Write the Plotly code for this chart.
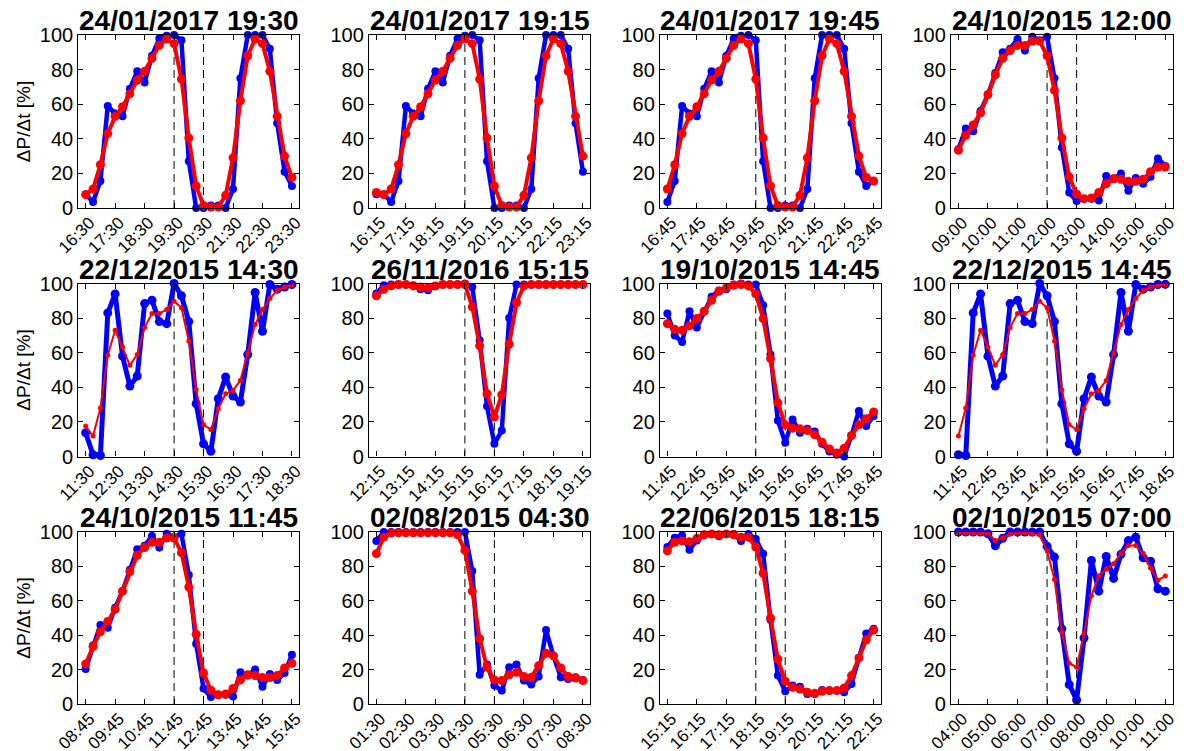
import plotly.graph_objects as go

# ---------------- data ----------------
titles = ["24/01/2017 19:30", "24/01/2017 19:15", "24/01/2017 19:45", "24/10/2015 12:00",
          "22/12/2015 14:30", "26/11/2016 15:15", "19/10/2015 14:45", "22/12/2015 14:45",
          "24/10/2015 11:45", "02/08/2015 04:30", "22/06/2015 18:15", "02/10/2015 07:00"]

ticks_p1 = ["16:30", "17:30", "18:30", "19:30", "20:30", "21:30", "22:30", "23:30"]
ticks_p2 = ["16:15", "17:15", "18:15", "19:15", "20:15", "21:15", "22:15", "23:15"]
ticks_p3 = ["16:45", "17:45", "18:45", "19:45", "20:45", "21:45", "22:45", "23:45"]
ticks_p4 = ["09:00", "10:00", "11:00", "12:00", "13:00", "14:00", "15:00", "16:00"]
ticks_p5 = ["11:30", "12:30", "13:30", "14:30", "15:30", "16:30", "17:30", "18:30"]
ticks_p6 = ["12:15", "13:15", "14:15", "15:15", "16:15", "17:15", "18:15", "19:15"]
ticks_p7 = ["11:45", "12:45", "13:45", "14:45", "15:45", "16:45", "17:45", "18:45"]
ticks_p8 = ["11:45", "12:45", "13:45", "14:45", "15:45", "16:45", "17:45", "18:45"]
ticks_p9 = ["08:45", "09:45", "10:45", "11:45", "12:45", "13:45", "14:45", "15:45"]
ticks_p10 = ["01:30", "02:30", "03:30", "04:30", "05:30", "06:30", "07:30", "08:30"]
ticks_p11 = ["15:15", "16:15", "17:15", "18:15", "19:15", "20:15", "21:15", "22:15"]
ticks_p12 = ["04:00", "05:00", "06:00", "07:00", "08:00", "09:00", "10:00", "11:00"]

blue_p1 = [8, 3.5, 15.6, 59, 54.6, 53, 69, 79, 72.6, 88, 98, 99.6, 100, 97, 27, 0, 0, 1.5, 1.5, 0,
           11, 75, 100, 100, 100, 92, 49, 21, 12.7]
red_p1 = [7.7, 11, 25, 43, 53, 58.5, 66, 74, 79, 86.5, 94, 97.7, 95, 74.5, 40.5, 12.7, 1.5, 0.6, 0.6, 7.3,
          29, 62, 88, 97.7, 95, 79, 53, 30, 17.6]

blue_p2 = [8, 8, 3.5, 15.6, 59, 54.6, 53, 69, 79, 72.6, 88, 98, 99.6, 100, 97, 27, 0, 0, 1.5, 1.5,
           0, 11, 75, 100, 100, 100, 92, 49, 21]
red_p2 = [9, 7.7, 11, 25, 43, 53, 58.5, 66, 74, 79, 86.5, 94, 97.7, 95, 74.5, 40.5, 12.7, 1.5, 0.6, 0.6,
          7.3, 29, 62, 88, 97.7, 95, 79, 53, 30]

blue_p3 = [3.5, 15.6, 59, 54.6, 53, 69, 79, 72.6, 88, 98, 99.6, 100, 97, 27, 0, 0, 1.5, 1.5, 0, 11,
           75, 100, 100, 100, 92, 49, 21, 12.7, 15.5]
red_p3 = [11, 25, 43, 53, 58.5, 66, 74, 79, 86.5, 94, 97.7, 95, 74.5, 40.5, 12.7, 1.5, 0.6, 0.6, 7.3, 29,
          62, 88, 97.7, 95, 79, 53, 30, 17.6, 15.6]

blue_p4 = [34, 46, 44.4, 56, 65.6, 78, 90, 92, 97.7, 91, 99, 97, 99, 75, 35, 9, 4, 5.4, 5.4, 4.4,
           18.5, 16.6, 20, 10, 17.4, 14, 18, 28.6, 24.3]
red_p4 = [33.4, 42, 48, 55, 65.6, 77, 86.5, 91, 94, 94, 96.5, 96.5, 88, 68, 40.5, 18, 8, 5.4, 5.8, 9,
          14, 17, 16.6, 15.4, 15.4, 16.6, 21, 23.7, 23.7]

blue_p5 = [13.7, 1, 0.6, 83, 94, 58, 40.7, 46.5, 88.4, 90.3, 78, 76.8, 100, 92.9, 78, 30.5, 7.3, 3,
           33.4, 46, 35, 31.5, 58.9, 94.8, 72.4, 99.4, 96.7, 98, 99.4]
red_p5 = [17.6, 11.8, 28, 58.5, 73, 63.3, 52.7, 59, 74.5, 82.6, 82.6, 85, 89.8, 86, 66.8, 38.6, 18.3, 15.6,
          27.6, 36.3, 38.2, 44, 59.5, 76.3, 85, 91.3, 96.1, 98, 99]

blue_p6 = [94.2, 99, 99.4, 99.4, 99.4, 99, 96.7, 96.1, 98.6, 99.4, 99.4, 99.4, 100, 98, 67.2, 29, 7.3,
           15, 80, 99.4, 99.4, 99.4, 99.4, 99.4, 99.4, 99.4, 99.4, 99.4, 99.4]
red_p6 = [92.9, 96.7, 98.6, 99.4, 99.4, 98.6, 98, 97.5, 98.6, 99.4, 99.4, 99.4, 99.4, 86.5, 64, 36.3,
          22.8, 35.7, 65, 89, 98.6, 99.4, 99.4, 99.4, 99.4, 99.4, 99.4, 99.4, 99.4]

blue_p7 = [82.6, 70, 66.2, 84, 74.5, 84, 92.3, 96, 96.7, 99.4, 100, 99.4, 99.4, 87.5, 58.9, 20.8, 8,
           21.4, 13.7, 16, 14.4, 7.3, 2.9, 1, 0, 12.2, 26.3, 17.6, 23.4]
red_p7 = [76.8, 73.5, 73, 75.5, 79.7, 84, 90.3, 95.5, 97.5, 99, 99.4, 98.6, 94, 79.7, 56.6, 31, 18.3,
          16.4, 16, 15, 12.5, 8.3, 4.4, 2, 4.8, 12.2, 18.3, 21.8, 25.7]

blue_p8 = [1, 0.6, 83, 94, 58, 40.7, 46.5, 88.4, 90.3, 78, 76.8, 100, 92.9, 78, 30.5, 7.3, 3, 33.4,
           46, 35, 31.5, 58.9, 94.8, 72.4, 99.4, 96.7, 98, 99.4, 99.5]
red_p8 = [11.8, 28, 58.5, 73, 63.3, 52.7, 59, 74.5, 82.6, 82.6, 85, 89.8, 86, 66.8, 38.6, 18.3, 15.6,
          27.6, 36.3, 38.2, 44, 59.5, 76.3, 85, 91.3, 96.1, 98, 99, 99.2]

blue_p9 = [20.4, 34, 46, 44.4, 56, 65.6, 78, 90, 92, 97.7, 91, 99, 97, 99, 75, 35, 9, 4, 5.4, 5.4,
           4.4, 18.5, 16.6, 20, 10, 17.4, 14, 18, 28.6]
red_p9 = [23.3, 33.4, 42, 48, 55, 65.6, 77, 86.5, 91, 94, 94, 96.5, 96.5, 88, 68, 40.5, 18, 8, 5.4, 5.8,
          9, 14, 17, 16.6, 15.4, 15.4, 16.6, 21, 23.7]

blue_p10 = [94.8, 100, 100, 100, 100, 100, 100, 100, 100, 100, 100, 100, 100, 77.3, 17, 23, 10.7, 7.8,
            21.4, 23, 13.6, 11.3, 16, 43, 28, 15.5, 14.6, 15.5, 14]
red_p10 = [87.4, 97, 99.4, 99.5, 99.5, 99.5, 99.5, 99.5, 99.5, 99.5, 99.5, 98.4, 89.3, 65.6, 38, 21.4,
           14, 13.6, 17, 18.4, 16, 15.5, 22.3, 29.5, 28, 21, 16, 15.1, 13.6]

blue_p11 = [91.3, 96.7, 98, 89.7, 95.1, 98.4, 98.8, 97.5, 98.8, 98.8, 94.8, 98.8, 96, 87.4, 49, 16.5,
            7.4, 10.7, 10, 5.8, 5.8, 8.2, 7.8, 7.8, 6.8, 11.7, 26.8, 41, 43.7]
red_p11 = [89, 94, 94.8, 94.4, 96.3, 98.4, 98.8, 98.4, 98.8, 98.4, 97, 96.9, 91.3, 76, 50, 26, 13.2,
           9.7, 8.7, 6.8, 6.2, 7.4, 7.8, 7.8, 9.3, 16.5, 26.8, 37.3, 43]

blue_p12 = [100, 100, 100, 100, 99, 92, 96.3, 100, 100, 100, 100, 100, 91.7, 85.4, 43.7, 11.3, 2.3,
            38.4, 83.5, 65.6, 85.8, 73, 87, 95, 97, 85, 83, 67, 65.6]
red_p12 = [99.4, 99.4, 99.4, 99.4, 99, 95, 96.7, 98.8, 99.4, 99.4, 98.8, 98.4, 89, 72.4, 41.7, 23.7,
           21.4, 40.8, 63, 74.6, 78.4, 81.6, 87.6, 92.2, 92.2, 87.6, 79, 72, 74.4]

y_ticks = [0, 20, 40, 60, 80, 100]
event_steps = [12, 16]           # dashed markers: event time and one hour later
thin_red_panels = [5, 8, 12]

panels = [
    (ticks_p1, blue_p1, red_p1), (ticks_p2, blue_p2, red_p2), (ticks_p3, blue_p3, red_p3),
    (ticks_p4, blue_p4, red_p4), (ticks_p5, blue_p5, red_p5), (ticks_p6, blue_p6, red_p6),
    (ticks_p7, blue_p7, red_p7), (ticks_p8, blue_p8, red_p8), (ticks_p9, blue_p9, red_p9),
    (ticks_p10, blue_p10, red_p10), (ticks_p11, blue_p11, red_p11), (ticks_p12, blue_p12, red_p12),
]

# ---------------- layout ----------------
W, H = 1184, 751
PAGE = 8   # the page body margin shifts the figure by this many pixels
col_px = [(78.3, 299.3), (369, 590.3), (660, 881), (951, 1172.7)]
row_px = [(35, 208), (283.5, 456.5), (532, 704)]
FONT = "Liberation Sans, Arial, sans-serif"

fig = go.Figure()
layout = dict(
    template="none",
    width=W, height=H, margin=dict(l=0, r=0, t=0, b=0, autoexpand=False),
    paper_bgcolor="white", plot_bgcolor="white", showlegend=False,
    font=dict(family=FONT, color="black"),
    annotations=[], shapes=[],
)

for k, (tl, blue, red) in enumerate(panels, start=1):
    r, c = (k - 1) // 4, (k - 1) % 4
    xs = list(range(len(blue)))
    xa, ya = ("x" if k == 1 else f"x{k}"), ("y" if k == 1 else f"y{k}")
    thin = k in thin_red_panels
    fig.add_trace(go.Scatter(
        x=xs, y=blue, xaxis=xa, yaxis=ya, mode="lines+markers",
        line=dict(color="#0000ff", width=5 if thin else 4.5),
        marker=dict(color="#0000ff", size=9 if thin else 8, symbol="circle"),
        hoverinfo="skip", cliponaxis=False))
    fig.add_trace(go.Scatter(
        x=xs, y=red, xaxis=xa, yaxis=ya, mode="lines+markers",
        line=dict(color="#ff0000", width=2 if thin else 4),
        marker=dict(color="#ff0000", size=5 if thin else 9, symbol="circle"),
        hoverinfo="skip", cliponaxis=False))

    x0, x1 = col_px[c]
    t, b = row_px[r]
    xd = [(x0 - PAGE) / W, (x1 - PAGE) / W]
    yd = [1 - (b - PAGE) / H, 1 - (t - PAGE) / H]
    axkey = "xaxis" if k == 1 else f"xaxis{k}"
    aykey = "yaxis" if k == 1 else f"yaxis{k}"
    layout[axkey] = dict(
        domain=xd, anchor=ya, range=[-1, len(blue)], automargin=False,
        tickmode="array", tickvals=list(range(0, len(blue), 4)), ticktext=tl,
        tickangle=-45, tickfont=dict(size=17, family=FONT, color="black"),
        ticklabelstandoff=-3, ticklabelshift=4,
        ticks="inside", ticklen=5, tickwidth=1, tickcolor="black",
        showline=True, linecolor="black", linewidth=1.3, mirror="ticks",
        showgrid=False, zeroline=False, fixedrange=True)
    layout[aykey] = dict(
        domain=yd, anchor=xa, range=[0, 100], automargin=False,
        tickmode="array", tickvals=y_ticks,
        tickfont=dict(size=20, family=FONT, color="black"),
        ticks="inside", ticklen=5, tickwidth=1, tickcolor="black",
        showline=True, linecolor="black", linewidth=1.3, mirror="ticks",
        showgrid=False, zeroline=False, fixedrange=True)
    if c == 0:
        layout[aykey]["title"] = dict(text="ΔP/Δt [%]", font=dict(size=19, family=FONT, color="black"))
    for s in event_steps:
        layout["shapes"].append(dict(
            type="line", xref=xa, yref=ya, x0=s, x1=s, y0=0, y1=100, layer="below",
            line=dict(color="black", width=1, dash="8px,5px")))
    layout["annotations"].append(dict(
        text=f"<b>{titles[k - 1]}</b>", xref="paper", yref="paper",
        x=(xd[0] + xd[1]) / 2, y=yd[1] - 3 / H, xanchor="center", yanchor="bottom",
        showarrow=False, font=dict(size=28, family=FONT, color="black")))

fig.update_layout(**layout)
fig.write_html("out.html")
